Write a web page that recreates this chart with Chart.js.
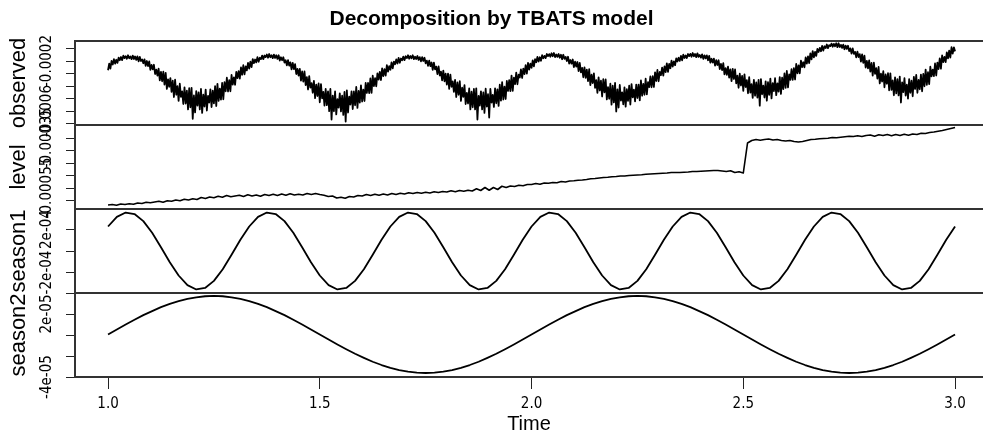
<!DOCTYPE html>
<html><head><meta charset="utf-8">
<script src="https://cdn.jsdelivr.net/npm/chart.js@4.4.1/dist/chart.umd.min.js"></script>
<style>html,body{margin:0;padding:0;background:#fff;overflow:hidden}#c{display:block}</style>
</head><body>
<canvas id="c" width="983" height="438"></canvas>
<script>
// ---------- DATA (values in units of 1e-6) ----------
const chartTitle = 'Decomposition by TBATS model';
const panelTitles = ['observed', 'level', 'season1', 'season2'];

const obsStart = 1, obsStep = 1 / 360;
const observed_e6 = [
-274,-222,-261,-200,-228,-186,-221,-190,-215,-173,-194,-168,-193,-157,-177,-162,-182,-154,-178,-164,
-185,-157,-184,-164,-191,-163,-203,-167,-200,-188,-218,-187,-239,-200,-241,-203,-270,-231,-267,-230,
-304,-269,-316,-262,-355,-287,-362,-286,-389,-295,-423,-347,-406,-337,-447,-358,-488,-350,-470,-401,
-519,-382,-487,-443,-544,-411,-540,-438,-587,-418,-570,-415,-662,-476,-611,-441,-557,-452,-587,-424,
-615,-470,-564,-429,-596,-480,-532,-427,-568,-437,-539,-402,-560,-383,-519,-421,-509,-376,-506,-370,
-442,-334,-444,-353,-442,-312,-389,-332,-390,-288,-337,-282,-341,-252,-310,-234,-307,-243,-275,-215,
-260,-205,-249,-185,-217,-188,-211,-169,-206,-174,-185,-157,-185,-156,-169,-148,-174,-144,-170,-154,
-177,-149,-176,-154,-183,-154,-196,-170,-194,-170,-212,-194,-234,-193,-237,-211,-267,-215,-265,-225,
-304,-264,-316,-263,-357,-284,-365,-284,-393,-329,-428,-321,-413,-377,-454,-359,-497,-389,-480,-380,
-530,-385,-499,-447,-557,-424,-553,-443,-601,-424,-668,-477,-602,-444,-627,-505,-573,-459,-603,-478,
-631,-448,-684,-435,-612,-486,-548,-443,-584,-444,-554,-408,-575,-440,-533,-395,-524,-429,-520,-376,
-456,-376,-457,-340,-455,-318,-401,-338,-402,-299,-348,-288,-352,-259,-321,-265,-317,-234,-285,-242,
-270,-212,-258,-205,-226,-187,-220,-175,-214,-180,-194,-165,-193,-162,-177,-154,-182,-160,-178,-154,
-185,-166,-184,-160,-191,-169,-203,-169,-200,-174,-218,-197,-239,-197,-241,-212,-270,-214,-267,-245,
-304,-244,-316,-285,-355,-277,-362,-302,-389,-301,-423,-309,-406,-363,-447,-351,-488,-372,-470,-362,
-519,-414,-487,-393,-544,-455,-540,-420,-587,-446,-570,-424,-587,-419,-668,-479,-557,-443,-587,-452,
-615,-422,-564,-466,-652,-424,-532,-472,-568,-419,-538,-427,-559,-390,-517,-370,-508,-405,-504,-360,
-440,-353,-441,-317,-439,-334,-385,-293,-386,-310,-332,-268,-336,-261,-305,-233,-301,-215,-269,-222,
-254,-196,-242,-186,-210,-168,-204,-170,-198,-154,-178,-159,-177,-144,-161,-145,-166,-138,-162,-136,
-169,-148,-167,-144,-174,-150,-186,-150,-183,-167,-200,-166,-220,-192,-221,-188,-249,-206,-245,-208,
-281,-216,-291,-255,-330,-251,-335,-270,-361,-266,-393,-310,-376,-299,-415,-354,-455,-331,-436,-358,
-484,-346,-451,-348,-507,-409,-502,-382,-549,-398,-531,-376,-604,-427,-572,-392,-517,-451,-547,-411,
-565,-426,-519,-398,-548,-385,-491,-429,-523,-389,-496,-389,-515,-356,-478,-383,-470,-342,-467,-370,
-409,-324,-410,-322,-408,-291,-360,-272,-362,-288,-313,-254,-317,-244,-289,-219,-286,-224,-258,-198,
-244,-204,-234,-179,-204,-174,-199,-159,-195,-150,-176,-156,-176,-144,-161,-143,-166,-136,-162,-144,
-169,-139,-167,-152,-173,-147,-183,-155,-179,-155,-194,-159,-213,-182,-212,-181,-237,-193,-232,-194,
-265,-223,-273,-218,-307,-257,-311,-245,-333,-268,-361,-263,-344,-268,-379,-317,-414,-302,-396,-319,
-439,-307,-408,-353,-458,-330,-453,-385,-495,-351,-478,-372,-493,-351,-557,-345,-466,-397,-492,-363,
-517,-370,-471,-341,-499,-378,-441,-338,-473,-379,-445,-329,-463,-334,-425,-300,-415,-280,-411,-307,
-351,-266,-351,-257,-348,-224,-298,-235,-298,-198,-248,-210,-250,-172,-220,-164,-216,-139,-186,-122,
-171,-127,-159,-104,-128,-95,-122,-80,-117,-82,-97,-68,-97,-73,-81,-61,-86,-63,-82,-58,
-89,-58,-88,-71,-95,-69,-106,-77,-103,-78,-121,-99,-141,-99,-143,-127,-170,-125,-168,-145,
-204,-148,-215,-158,-252,-199,-259,-196,-285,-216,-317,-214,-303,-258,-341,-248,-379,-302,-364,-282,
-410,-308,-382,-298,-434,-299,-431,-356,-474,-331,-459,-346,-475,-325,-532,-371,-449,-338,-476,-390,
-501,-345,-454,-358,-482,-327,-424,-312,-454,-352,-426,-309,-442,-304,-402,-269,-391,-290,-385,-246,
-323,-269,-321,-220,-316,-213,-264,-179,-262,-156,-209,-167,-209,-131,-178,-117,-172,-90,-140,-91,
-123];

const levelStart = 1, levelStep = 0.01;
const level_e6 = [-618,-616,-619,-614,-616,-613,-615,-610,-612,-607,
-609,-606,-603,-607,-601,-603,-598,-601,-595,-598,
-593,-596,-588,-592,-586,-589,-583,-587,-580,-585,
-582,-579,-584,-577,-582,-578,-583,-576,-580,-575,
-580,-574,-579,-573,-578,-575,-578,-572,-576,-572,
-576,-579,-584,-582,-590,-587,-591,-584,-586,-580,
-582,-576,-580,-575,-579,-574,-578,-572,-576,-571,
-574,-569,-572,-568,-571,-567,-570,-565,-568,-564,
-566,-561,-565,-560,-563,-559,-562,-553,-560,-548,
-559,-548,-556,-543,-548,-542,-544,-539,-541,-536,
-536,-532,-535,-530,-531,-528,-529,-524,-526,-522,
-521,-519,-518,-516,-513,-512,-510,-508,-507,-505,
-504,-502,-502,-500,-499,-498,-497,-495,-494,-493,
-492,-491,-490,-488,-488,-488,-487,-486,-484,-484,
-483,-482,-481,-480,-480,-482,-484,-481,-488,-485,
-490,-370,-360,-356,-359,-356,-354,-358,-356,-360,
-362,-360,-364,-366,-364,-360,-356,-355,-353,-352,
-351,-348,-349,-347,-345,-343,-344,-341,-344,-340,
-338,-343,-337,-340,-336,-341,-336,-340,-335,-339,
-334,-336,-331,-332,-328,-326,-323,-320,-316,-312,
-308];

const seasonStart = 1, seasonStep = 1 / 48;
const season1_e6 = [
228,318,358,344,278,170,35,-104,-228,-318,-358,-344,-278,-170,-35,104,
228,318,358,344,278,170,35,-104,-228,-318,-358,-344,-278,-170,-35,104,
228,318,358,344,278,170,35,-104,-228,-318,-358,-344,-278,-170,-35,104,
228,318,358,344,278,170,35,-104,-228,-318,-358,-344,-278,-170,-35,104,
228,318,358,344,278,170,35,-104,-228,-318,-358,-344,-278,-170,-35,104,
228,318,358,344,278,170,35,-104,-228,-318,-358,-344,-278,-170,-35,104,
228];
const season2_e6 = [
0.5,5.3,10.0,14.5,18.9,22.8,26.5,29.6,32.3,34.4,35.9,36.9,37.2,36.9,35.9,34.4,32.3,29.6,26.5,22.8,18.9,14.5,10.0,5.3,
0.5,-4.3,-9.0,-13.5,-17.9,-21.8,-25.5,-28.6,-31.3,-33.4,-34.9,-35.9,-36.2,-35.9,-34.9,-33.4,-31.3,-28.6,-25.5,-21.8,-17.9,-13.5,-9.0,-4.3,
0.5,5.3,10.0,14.5,18.9,22.8,26.5,29.6,32.3,34.4,35.9,36.9,37.2,36.9,35.9,34.4,32.3,29.6,26.5,22.8,18.9,14.5,10.0,5.3,
0.5,-4.3,-9.0,-13.5,-17.9,-21.8,-25.5,-28.6,-31.3,-33.4,-34.9,-35.9,-36.2,-35.9,-34.9,-33.4,-31.3,-28.6,-25.5,-21.8,-17.9,-13.5,-9.0,-4.3,
0.5];

// axis ranges (units of 1e-6)
const obsRange = [-712, -40];
const levelRange = [-634, -298];
const season1Range = [-391, 391];
const season2Range = [-40, 40];

// tick values and labels
const xRange = [0.922, 3.066];
const xTicks = [1.0, 1.5, 2.0, 2.5, 3.0];
const xTickLabels = ['1.0', '1.5', '2.0', '2.5', '3.0'];
const obsTicks = [-0.0007, -0.0006, -0.0005, -0.0004, -0.0003, -0.0002, -0.0001];
const obsTickLabels = ['', '-0.0006', '', '', '', '-0.0002', ''];
const levelTicks = [-0.0006, -0.00055, -0.0005, -0.00045, -0.0004, -0.00035];
const levelTickLabels = ['', '-0.00055', '', '', '', '-0.00035'];
const season1Ticks = [-0.0002, 0, 0.0002];
const season1TickLabels = ['-2e-04', '', '2e-04'];
const season2Ticks = [-0.00004, -0.00002, 0, 0.00002, 0.00004];
const season2TickLabels = ['-4e-05', '', '', '2e-05', ''];

// ---------- STYLE ----------
const TICK_FONT = "'Liberation Sans Narrow','DejaVu Sans Condensed','Liberation Sans',sans-serif";
const LABEL_FONT = "'Liberation Sans',Arial,sans-serif";
const PLOT_LEFT = 75, LABEL_CENTER_X = 47, Y_TICK_LEN = 9, Y_TICK_SIZE = 15;
const FRAME = '#333';

const mctx = document.createElement('canvas').getContext('2d');
function labelPad(labels) {
  mctx.font = Y_TICK_SIZE + 'px ' + TICK_FONT;
  const w = Math.max(...labels.map(l => mctx.measureText(l).width));
  return PLOT_LEFT - Y_TICK_LEN - w / 2 - LABEL_CENTER_X;
}
const E6 = 1e-6;
function series(vals, start, step) {
  return vals.map((v, i) => ({x: start + i * step, y: v * E6}));
}
function yAxis(title, range, ticks, labels, weight) {
  return {
    type: 'linear', position: 'left', stack: 'panels', stackWeight: 1, weight: weight,
    bounds: 'data', min: range[0] * E6, max: range[1] * E6,
    afterBuildTicks: s => { s.ticks = ticks.map(v => ({value: v})); },
    afterFit: s => { s.width = PLOT_LEFT; },
    ticks: {
      autoSkip: false, minRotation: 90, maxRotation: 90, crossAlign: 'center',
      padding: labelPad(labels), color: '#000',
      font: {family: TICK_FONT, size: Y_TICK_SIZE},
      callback: (v, i) => labels[i]
    },
    grid: {display: true, drawOnChartArea: false, drawTicks: true, tickLength: Y_TICK_LEN, color: '#222', lineWidth: 1},
    border: {display: false},
    title: {display: true, text: title, color: '#000', font: {family: LABEL_FONT, size: 22}, padding: {top: 6, bottom: 0}}
  };
}

const framePlugin = {
  id: 'panelFrame',
  afterDraw(chart) {
    const ctx = chart.ctx;
    const {left, right} = chart.chartArea;
    const ids = ['yObs', 'yLevel', 'yS1', 'yS2'];
    ctx.save();
    ctx.strokeStyle = FRAME;
    ctx.lineWidth = 2;
    ctx.beginPath();
    let top = Infinity, bottom = -Infinity;
    ids.forEach(id => {
      const s = chart.scales[id];
      ctx.moveTo(left, s.top); ctx.lineTo(right, s.top);
      ctx.moveTo(left, s.bottom); ctx.lineTo(right, s.bottom);
      top = Math.min(top, s.top); bottom = Math.max(bottom, s.bottom);
    });
    ctx.moveTo(left, top - 1); ctx.lineTo(left, bottom + 1);
    ctx.stroke();
    ctx.restore();
  }
};

const lineStyle = {borderColor: '#000', pointRadius: 0, tension: 0, fill: false, borderJoinStyle: 'round'};

new Chart(document.getElementById('c'), {
  type: 'line',
  data: {
    datasets: [
      Object.assign({label: panelTitles[0], data: series(observed_e6, obsStart, obsStep), yAxisID: 'yObs', borderWidth: 1.8}, lineStyle),
      Object.assign({label: panelTitles[1], data: series(level_e6, levelStart, levelStep), yAxisID: 'yLevel', borderWidth: 1.6}, lineStyle),
      Object.assign({label: panelTitles[2], data: series(season1_e6, seasonStart, seasonStep), yAxisID: 'yS1', borderWidth: 1.8}, lineStyle),
      Object.assign({label: panelTitles[3], data: series(season2_e6, seasonStart, seasonStep), yAxisID: 'yS2', borderWidth: 1.8}, lineStyle)
    ]
  },
  options: {
    responsive: false, animation: false, devicePixelRatio: 1,
    layout: {padding: 0},
    plugins: {
      legend: {display: false}, tooltip: {enabled: false},
      title: {display: true, text: chartTitle, color: '#000',
        font: {family: LABEL_FONT, size: 21, weight: 'bold', lineHeight: 1.2},
        padding: {top: 6.4, bottom: 9.4}}
    },
    scales: {
      x: {
        type: 'linear', position: 'bottom', bounds: 'data', min: xRange[0], max: xRange[1],
        afterBuildTicks: s => { s.ticks = xTicks.map(v => ({value: v})); },
        afterFit: s => { s.height = 61; },
        ticks: {autoSkip: false, minRotation: 0, maxRotation: 0, padding: 6, color: '#000',
          font: {family: TICK_FONT, size: 15}, callback: (v, i) => xTickLabels[i]},
        grid: {display: true, drawOnChartArea: false, tickLength: 12, color: '#222', lineWidth: 1},
        border: {display: false},
        title: {display: true, text: 'Time', color: '#000', font: {family: LABEL_FONT, size: 20}, padding: {top: 0, bottom: 2}}
      },
      yObs: yAxis(panelTitles[0], obsRange, obsTicks, obsTickLabels, 4),
      yLevel: yAxis(panelTitles[1], levelRange, levelTicks, levelTickLabels, 3),
      yS1: yAxis(panelTitles[2], season1Range, season1Ticks, season1TickLabels, 2),
      yS2: yAxis(panelTitles[3], season2Range, season2Ticks, season2TickLabels, 1)
    }
  },
  plugins: [framePlugin]
});
</script>
</body></html>
